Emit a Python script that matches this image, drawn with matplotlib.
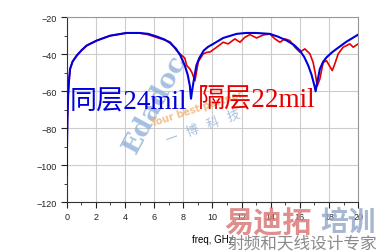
import numpy as np
import matplotlib.pyplot as plt
from matplotlib.ticker import MultipleLocator

# same layer 24 mil (blue)
freq_same = [0, 0.02, 0.05, 0.1, 0.15, 0.23, 0.4, 0.69, 1.0, 1.37, 2.06, 2.97, 4.1, 5.0,
             5.6, 6.2, 6.7, 7.1, 7.5, 7.8, 8.1, 8.3, 8.45, 8.53, 8.6, 8.7, 8.9, 9.1, 9.4,
             9.7, 10.06, 10.74, 11.66, 12.3, 13.0, 13.94, 14.5, 15.1, 15.6, 16.0, 16.3,
             16.57, 16.8, 16.91, 17.0, 17.08, 17.15, 17.37, 17.6, 17.83, 18.2, 18.52,
             19.2, 20]
s21_same = [-105, -90, -75, -62, -55, -48, -44, -40.7, -38, -35.3, -32.6, -30, -28.5, -28.5,
            -29, -30.5, -32, -33.9, -37, -40.7, -46, -51, -57, -64, -60, -55, -46, -42, -38,
            -36, -34.4, -31.2, -29, -28.5, -28.5, -29, -30.5, -32.6, -35, -38, -41.5,
            -46, -51, -54.3, -57, -60, -57, -48, -44, -41.7, -39, -37.1,
            -33.2, -29.4]

# different layer 22 mil (red)
freq_diff = [0, 0.02, 0.05, 0.1, 0.15, 0.23, 0.4, 0.69, 1.0, 1.37, 2.06, 2.97, 4.1, 5.0,
             5.5, 6.2, 6.8, 7.1, 7.54, 7.9, 8.1, 8.23, 8.46, 8.6, 8.8, 9.03, 9.37, 9.6,
             9.83, 10.29, 10.74, 11.08, 11.54, 11.89, 12.23, 12.57, 13.03, 13.49, 13.94,
             14.29, 14.63, 14.97, 15.31, 15.66, 16.0, 16.34, 16.69, 16.91, 17.05, 17.19,
             17.37, 17.6, 17.83, 18.01, 18.22, 18.4, 18.63, 18.97, 19.43, 19.66, 20]
s21_diff = [-105, -90, -75, -62, -55, -48, -44, -40.7, -38, -35.3, -32.6, -30, -28.5, -28.6,
            -29.2, -31, -32.5, -33.4, -38, -40.7, -42, -46, -48, -50, -54.3, -44, -39.8, -39,
            -38.8, -36.2, -33.5, -34.4, -31.7, -33.5, -30.8, -29.4, -31.2, -29.6, -29,
            -31.7, -33.5, -31.7, -32.6, -36.2, -38.9, -37.1, -39.8, -44.4, -50, -57.1,
            -53.4, -44.4, -43.5, -46, -48.8, -45.2, -39.8, -36.2, -34.4, -36.2, -34.4]

x_ticks = [0, 2, 4, 6, 8, 10, 12, 14, 16, 18, 20]
y_ticks = [-120, -100, -80, -60, -40, -20]

cjk = ['Liberation Serif', 'Noto Sans CJK SC', 'DejaVu Sans']

fig = plt.figure(figsize=(3.79, 2.53), dpi=100)
ax = fig.add_axes([0.176, 0.196, 0.769, 0.732])

ax.plot(freq_diff, s21_diff, color='#e60000', lw=1.2, zorder=3)
ax.plot(freq_same, s21_same, color='#0000dc', lw=1.5, zorder=4)

ax.set_xlim(0, 20)
ax.set_ylim(-120, -20)
ax.set_xticks(x_ticks)
ax.set_yticks(y_ticks)
ax.xaxis.set_minor_locator(MultipleLocator(1))
ax.yaxis.set_minor_locator(MultipleLocator(10))
ax.grid(True, which='major', color='#cccccc', lw=0.8)
ax.tick_params(which='both', direction='out', labelsize=6.5, colors='#222222', pad=3)
ax.tick_params(which='major', length=4)
ax.tick_params(which='minor', length=2.5)
for lbl in ax.get_xticklabels() + ax.get_yticklabels():
    lbl.set_family('Liberation Sans')
for side in ['top', 'right']:
    ax.spines[side].set_color('#999999')
for side in ['left', 'bottom']:
    ax.spines[side].set_color('#333333')

ax.set_xlabel('freq, GHz', fontsize=7, family='Liberation Sans', labelpad=9)

ax.text(0.2, -66, '同层24mil', color='#0000dc', fontsize=19.5, family=cjk, va='center', zorder=5)
ax.text(9.0, -64, '隔层22mil', color='#e60000', fontsize=19.5, family=cjk, va='center', zorder=5)

# watermarks
ax.text(6.0, -66, 'Edadoc', color='#8fb0d8', alpha=0.8, fontsize=19, fontweight='bold',
        family='DejaVu Serif', rotation=62, ha='center', va='center', zorder=2)
ax.text(8.9, -69, 'Your best partner', color='#f0b070', alpha=0.8, fontsize=7, fontweight='bold',
        rotation=18, ha='center', va='center', zorder=2)
ax.text(9.4, -79, '一   博   科   技', color='#8fb0d8', alpha=0.8, fontsize=9,
        family=cjk, rotation=20, ha='center', va='center', zorder=2)
fig.text(0.592, 0.115, '易迪拓', color='#d97a78', alpha=0.85, fontsize=21, fontweight='bold',
         family=cjk, va='center', ha='left')
fig.text(0.845, 0.115, '培训', color='#98abc8', alpha=0.85, fontsize=20, fontweight='bold',
         family=cjk, va='center', ha='left')
fig.text(0.6, 0.035, '射频和天线设计专家', color='#8a8a8a', fontsize=12,
         family=cjk, va='center', ha='left')

fig.savefig('out.png', dpi=100)
